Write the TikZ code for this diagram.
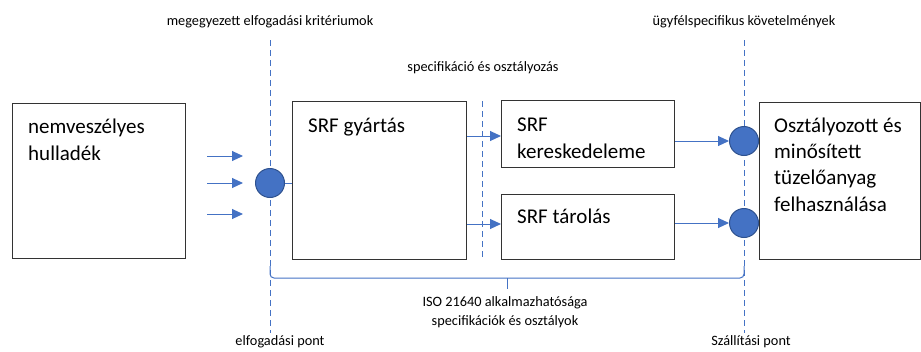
\documentclass[tikz,border=0pt]{standalone}
\usepackage{fontspec}
\setmainfont{Carlito}
\usetikzlibrary{arrows.meta,positioning,calc}
\definecolor{srfblue}{HTML}{4472C4}
\definecolor{srfdark}{HTML}{2F528F}

\begin{document}
\begin{tikzpicture}[x=1pt, y=-1pt, every node/.style={font=\fontsize{14.3}{19}\selectfont}, box/.style={draw=black!80, line width=1.1pt, anchor=north west, inner sep=0pt}, big/.style={anchor=base west, align=left, inner sep=0pt, font=\fontsize{21}{26.3}\selectfont}, dot/.style={circle, draw=srfdark, line width=1pt, fill=srfblue, minimum size=29pt, inner sep=0pt}, arr/.style={-{Triangle[length=11pt,width=10pt]}, srfblue, line width=1pt}, gate/.style={srfblue, dash pattern=on 6pt off 4pt, line width=1pt}]
\useasboundingbox (0,0) rectangle (921,351);
% boxes (text nodes sit on the baseline of their last line)
\node[box, minimum width=173pt, minimum height=155pt] (waste) at (12,103) {};
\node[big] (wastetxt) at ([xshift=16pt,yshift=-57pt]waste.north west) {nemveszélyes\\hulladék};
\node[box, minimum width=174pt, minimum height=158pt] (prod) at (292,101) {};
\node[big] (prodtxt) at ([xshift=16pt,yshift=-31pt]prod.north west) {SRF gyártás};
\node[box, minimum width=173pt, minimum height=67pt] (trade) at (501,100) {};
\node[big] (tradetxt) at ([xshift=16pt,yshift=-58pt]trade.north west) {SRF\\kereskedeleme};
\node[box, minimum width=173pt, minimum height=65pt] (store) at (501,194) {};
\node[big] (storetxt) at ([xshift=16pt,yshift=-29pt]store.north west) {SRF tárolás};
\node[box, minimum width=161pt, minimum height=157pt] (use) at (759,102) {};
\node[big] (usetxt) at ([xshift=15pt,yshift=-109pt]use.north west) {Osztályozott és\\minősített\\tüzelőanyag\\felhasználása};
% gates
\coordinate (gAtop) at (270,40);
\coordinate (gAbot) at (270,333);
\coordinate (gBtop) at (482,101);
\coordinate (gBbot) at (482,259);
\coordinate (gCtop) at (744,40);
\coordinate (gCbot) at (744,333);
\draw[gate] (gAtop) -- (gAbot);
\draw[gate] (gBtop) -- (gBbot);
\draw[gate] (gCtop) -- (gCbot);
\node[dot] (accept) at (270,183) {};
\node[dot] (deliv1) at (744,141) {};
\node[dot] (deliv2) at (744,223) {};
% labels
\node (agreed) at (270,22) {megegyezett elfogadási kritériumok};
\node (spec) at (483,68) {specifikáció és osztályozás};
\node (client) at (744,22) {ügyfélspecifikus követelmények};
\node (acceptlbl) at (280,342) {elfogadási pont};
\node (delivlbl) at (751,342) {Szállítási pont};
\node[align=center] (iso) at (505,312) {ISO 21640 alkalmazhatósága\\specifikációk és osztályok};
% input arrows
\foreach \y [count=\i] in {156,183,214} {
  \coordinate (in\i) at (207,\y);
  \draw[arr] (in\i) -- (243,\y);
}
% flows
\draw[srfblue, line width=1pt] (accept) -- (prod.west |- accept);
\draw[arr] (prod.east |- 0,136) -- (trade.west |- 0,136);
\draw[arr] (prod.east |- 0,224) -- (store.west |- 0,224);
\draw[arr] (trade.east |- deliv1) -- (deliv1);
\draw[arr] (store.east |- deliv2) -- (deliv2);
% scope bracket
\coordinate (brmid) at (507,289);
\draw[srfblue, line width=1pt, rounded corners=4pt] (270,266) |- (brmid |- 0,278) -| (744,266);
\draw[srfblue, line width=1pt] (brmid |- 0,278) -- (brmid);
\end{tikzpicture}
\end{document}
